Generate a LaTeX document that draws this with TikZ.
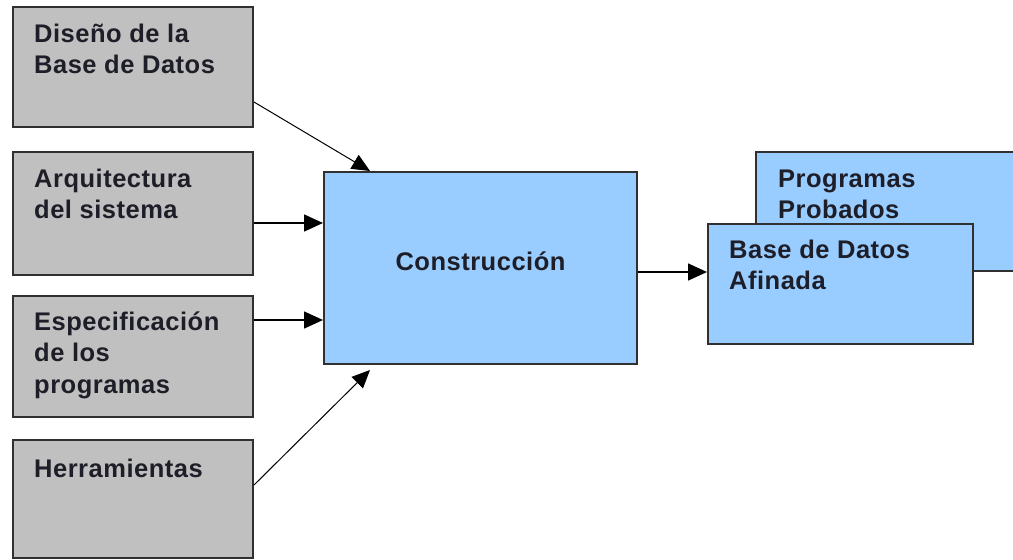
\documentclass[tikz,border=0pt]{standalone}
\usepackage{fontspec}
\setmainfont{Liberation Sans}[LetterSpace=2]
\usetikzlibrary{arrows.meta,positioning}
\definecolor{boxgray}{HTML}{C0C0C0}
\definecolor{boxblue}{HTML}{99CCFF}
\definecolor{edgecol}{HTML}{303030}
\definecolor{txtdark}{HTML}{1E1E28}
\tikzset{
  graybox/.style={draw=edgecol, line width=2pt, fill=boxgray, rectangle, inner sep=0pt, anchor=north west},
  bluebox/.style={draw=edgecol, line width=2pt, fill=boxblue, rectangle, inner sep=0pt, anchor=north west},
  boxtext/.style={anchor=base west, inner sep=0pt, text=txtdark,
    font=\fontsize{25.5}{31.5}\selectfont\bfseries},
  flow/.style={-{Triangle[length=19pt,width=17pt]}, line width=1.6pt, draw=black},
  thinflow/.style={-{Triangle[length=18pt,width=16pt]}, line width=1pt, draw=black},
}
\begin{document}
\begin{tikzpicture}[x=1pt,y=-1pt]
\useasboundingbox (0,0) rectangle (1013,560);
\fill[white] (0,0) rectangle (1013,560);
\clip (0,0) rectangle (1013,560);
% input boxes
\node[graybox, minimum width=240pt, minimum height=120pt] (d1) at (12,6) {};
\node[graybox, minimum width=240pt, minimum height=123pt] (d2) at (12,151) {};
\node[graybox, minimum width=240pt, minimum height=121pt] (d3) at (12,295) {};
\node[graybox, minimum width=240pt, minimum height=118pt] (d4) at (12,439) {};
\node[boxtext] (t1) at (34,42) {\vtop{\hbox{Diseño de la}\hbox{Base de Datos}}};
\node[boxtext] (t2) at (34,187) {\vtop{\hbox{Arquitectura}\hbox{del sistema}}};
\node[boxtext] (t3) at (34,330) {\vtop{\hbox{Especificación}\hbox{de los}\hbox{programas}}};
\node[boxtext] (t4) at (34,477) {Herramientas};
% central box
\node[bluebox, minimum width=313pt, minimum height=192pt] (c) at (323,171) {};
\node[boxtext, anchor=base] (tc) at ([yshift=-2pt]c.center) {Construcción};
% output boxes
\node[bluebox, minimum width=300pt, minimum height=119pt] (p) at (755,151) {};
\node[boxtext] (tp) at (778,187) {\vtop{\hbox{Programas}\hbox{Probados}}};
\node[bluebox, minimum width=265pt, minimum height=120pt] (b) at (707,223) {};
\node[boxtext] (tb) at (729,258) {\vtop{\hbox{Base de Datos}\hbox{Afinada}}};
% connectors
\draw[thinflow] ([yshift=26pt]d1.south east) -- ([xshift=47pt]c.north west);
\draw[flow] (d2.east |- 0,223) -- (c.west |- 0,223);
\draw[flow] (d3.east |- 0,320) -- (c.west |- 0,320);
\draw[thinflow] (d4.east |- 0,485) -- ([xshift=47pt,yshift=-5pt]c.south west);
\draw[flow] (c.east |- 0,272) -- (b.west |- 0,272);
\end{tikzpicture}
\end{document}
